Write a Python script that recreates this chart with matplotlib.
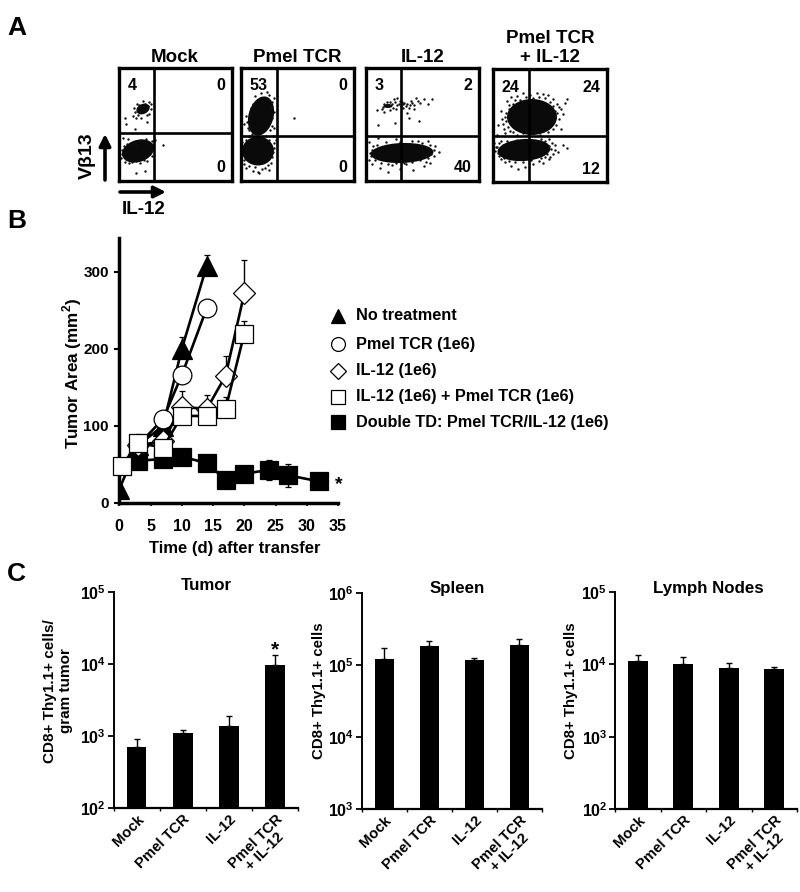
import matplotlib
matplotlib.use("Agg")
import matplotlib.pyplot as plt
from matplotlib.patches import Ellipse

plt.rcParams['font.family'] = ['Liberation Sans', 'DejaVu Sans']
plt.rcParams['font.weight'] = 'bold'
plt.rcParams['mathtext.fontset'] = 'custom'
plt.rcParams['mathtext.rm'] = 'Liberation Sans:bold'
plt.rcParams['mathtext.bf'] = 'Liberation Sans:bold'

W, H = 800, 892

# Panel A: quadrant percentages (top-left, top-right, bottom-right)
flow_titles = ["Mock", "Pmel TCR", "IL-12", "Pmel TCR\n+ IL-12"]
flow_boxes = [(119, 68, 232, 181), (241, 68, 354, 181), (366, 68, 479, 181), (493, 69, 607, 182)]
flow_splits = [(35, 65), (36, 68), (35, 68), (36, 67)]
flow_numbers = [("4", "0", "0"), ("53", "0", "0"), ("3", "2", "40"), ("24", "24", "12")]

# dense populations (centre x, centre y, width, height, angle), box units
mock_blobs = [(19, 83, 33, 22, -18), (24, 41, 14, 10, -25)]
pmel_blobs = [(20, 48, 25, 40, 15), (17, 83, 32, 29, 0)]
il12_blobs = [(36, 85, 63, 20, -2), (22, 38, 9, 4, 0)]
combo_blobs = [(39, 48, 50, 36, 0), (31, 81, 53, 22, -4)]

# scattered events, box units
mock_dots = [(6, 50), (7, 56), (16, 61), (14, 48), (28, 54), (44, 77), (17, 105), (26, 103), (6, 94), (4, 70),
             (9, 71), (18, 36), (24, 33), (30, 34), (29, 38), (32, 36), (16, 44), (19, 47), (30, 46), (22, 50),
             (3, 82), (2, 90), (10, 95), (17, 93), (28, 93), (33, 88), (36, 72), (34, 76), (8, 76), (22, 72),
             (5, 78), (3, 86), (7, 91), (13, 94), (21, 95), (25, 92), (31, 84), (34, 80), (33, 73), (27, 71),
             (17, 78), (12, 76), (28, 47), (15, 40), (32, 41), (17, 50), (26, 36), (20, 37)]
pmel_dots = [(53, 50), (5, 48), (3, 56), (7, 60), (5, 72), (1, 68), (33, 30), (31, 34), (28, 27), (10, 40),
             (9, 52), (8, 62), (33, 60), (32, 68), (3, 92), (5, 100), (17, 104), (18, 105), (12, 103), (24, 100),
             (30, 95), (33, 80), (35, 72), (2, 78), (8, 68), (28, 72), (14, 28), (20, 25), (26, 24), (29, 62),
             (31, 50), (33, 44), (12, 36), (9, 46), (30, 40), (2, 86), (3, 96), (8, 98), (27, 97), (31, 89),
             (33, 75), (1, 74), (11, 66), (25, 68), (31, 58), (6, 54), (21, 101), (14, 99), (32, 84), (28, 102)]
il12_dots = [(11, 42), (12, 57), (29, 55), (24, 42), (40, 38), (45, 33), (50, 30), (54, 35), (58, 31), (62, 36),
             (66, 31), (48, 37), (41, 45), (36, 34), (37, 40), (31, 30), (28, 31), (18, 44), (17, 39), (43, 50),
             (53, 53), (3, 74), (7, 78), (3, 92), (6, 96), (22, 104), (14, 100), (47, 102), (58, 98), (68, 88),
             (69, 78), (64, 95), (73, 84), (12, 70), (30, 71), (52, 73), (62, 73), (34, 101), (40, 96), (26, 97),
             (26, 36), (29, 34), (31, 37), (33, 36), (35, 38), (38, 35), (41, 36), (43, 40), (46, 35), (48, 41),
             (24, 34), (27, 40), (30, 41), (34, 33), (37, 36), (44, 37), (52, 33), (18, 36), (16, 41), (21, 34),
             (6, 82), (5, 88), (9, 92), (15, 95), (22, 96), (30, 95), (38, 95), (46, 94), (54, 92), (62, 90),
             (65, 86), (68, 82), (64, 77), (56, 75), (46, 73), (34, 74), (20, 74), (11, 77), (4, 85), (60, 94)]
combo_dots = [(5, 56), (9, 50), (11, 60), (8, 42), (14, 32), (18, 28), (24, 27), (30, 24), (37, 26), (44, 24),
              (50, 25), (55, 26), (60, 30), (64, 35), (68, 40), (70, 45), (66, 50), (63, 56), (68, 60), (60, 60),
              (72, 34), (74, 30), (50, 62), (42, 62), (30, 64), (20, 63), (12, 64), (4, 66), (1, 74), (3, 78),
              (5, 84), (8, 90), (12, 93), (18, 97), (25, 100), (32, 98), (40, 95), (46, 92), (50, 94), (56, 90),
              (58, 80), (62, 76), (70, 76), (74, 79), (56, 70), (48, 70), (36, 70), (24, 71), (14, 72), (8, 72),
              (60, 85), (57, 88), (52, 88), (16, 40), (58, 42), (62, 42), (66, 38), (20, 35), (12, 48), (60, 52),
              (10, 55), (13, 52), (15, 58), (17, 62), (24, 66), (35, 66), (47, 66), (55, 63), (62, 48), (64, 44),
              (60, 37), (57, 33), (52, 29), (46, 28), (40, 29), (33, 28), (27, 31), (22, 31), (16, 36), (13, 44),
              (4, 78), (6, 74), (10, 76), (2, 82), (6, 87), (11, 89), (16, 92), (22, 93), (30, 93), (38, 91),
              (48, 89), (54, 85), (56, 77), (52, 72), (43, 72), (30, 72), (19, 73), (62, 81), (65, 83), (59, 74)]
flow_dots = [mock_dots, pmel_dots, il12_dots, combo_dots]
flow_blobs = [mock_blobs, pmel_blobs, il12_blobs, combo_blobs]

# Panel B: tumor growth
black_days = [3, 7, 10, 14, 17, 20, 24, 27, 32]
black_area = [55, 57, 60, 52, 30, 38, 43, 36, 28]
black_err = [4, 5, 5, 5, 4, 5, 13, 15, 3]
tri_days = [0, 3, 7, 10, 14]
tri_area = [18, 75, 100, 200, 308]
tri_err = [1, 5, 6, 15, 14]
circ_days = [3, 7, 10, 14]
circ_area = [75, 109, 166, 253]
circ_err = [5, 6, 10, 8]
diam_days = [3, 7, 10, 14, 17, 20]
diam_area = [75, 80, 125, 122, 165, 272]
diam_err = [5, 7, 20, 18, 26, 43]
sq_days = [0.4, 3, 7, 10, 14, 17, 20]
sq_area = [48, 78, 72, 113, 113, 122, 220]
sq_err = [2, 12, 6, 10, 9, 16, 16]

# Panel C: cell counts
bar_labels = ["Mock", "Pmel TCR", "IL-12", "Pmel TCR\n+ IL-12"]
tumor_vals = [703, 1089, 1361, 9680]
tumor_tops = [908, 1199, 1915, 13200]
spleen_vals = [121000, 186000, 118000, 192000]
spleen_tops = [172000, 213000, 126000, 227000]
node_vals = [11100, 10000, 8900, 8500]
node_tops = [13500, 12600, 10500, 9300]


def px_axes(fig, left, top, right, bottom):
    return fig.add_axes([left / W, 1 - bottom / H, (right - left) / W, (bottom - top) / H])


fig = plt.figure(figsize=(W / 100, H / 100), dpi=100)

# overlay in pixel coordinates for panel letters, legend and loose labels
over = fig.add_axes([0, 0, 1, 1], zorder=10)
over.set_xlim(0, W)
over.set_ylim(H, 0)
over.axis('off')

for letter, y in zip("ABC", [28, 221, 574]):
    over.text(7, y, letter, fontsize=19, va='center', ha='left')

# Panel A
for i, box in enumerate(flow_boxes):
    left, top, right, bottom = box
    ax = px_axes(fig, left, top, right, bottom)
    ax.set_xlim(0, right - left)
    ax.set_ylim(bottom - top, 0)
    ax.set_xticks([])
    ax.set_yticks([])
    for s in ax.spines.values():
        s.set_linewidth(2.4)
    for cx, cy, w, h, ang in flow_blobs[i]:
        ax.add_patch(Ellipse((cx, cy), w, h, angle=ang, color='#0a0a0a', lw=0))
    xs = [d[0] for d in flow_dots[i]]
    ys = [d[1] for d in flow_dots[i]]
    ax.scatter(xs, ys, s=3, color='#111111', lw=0)
    vx, hy = flow_splits[i]
    ax.axvline(vx, color='k', lw=1.9)
    ax.axhline(hy, color='k', lw=1.9)
    tl, tr, br = flow_numbers[i]
    ax.text(8.5, 18, tl, fontsize=11.5, va='center', ha='left')
    ax.text(right - left - 7, 18, tr, fontsize=11.5, va='center', ha='right')
    ax.text(right - left - 7, 100, br, fontsize=11.5, va='center', ha='right')
    title_y = 58 if i < 3 else 48
    over.text((left + right) / 2 - (1 if i == 0 else 0), title_y, flow_titles[i], fontsize=13.5, ha='center',
              va='center', linespacing=1.1)

over.text(87, 156, "V\u03b213", fontsize=14, rotation=90, ha='center', va='center')
over.text(144, 209, "IL-12", fontsize=13.5, ha='center', va='center')
arrow = dict(arrowstyle='-|>', lw=2.6, color='k', mutation_scale=17, shrinkA=0, shrinkB=0)
over.annotate('', xy=(105, 134), xytext=(105, 180), arrowprops=arrow)
over.annotate('', xy=(166, 192), xytext=(120, 192), arrowprops=arrow)

# Panel B
ax = px_axes(fig, 119.3, 238, 338, 503)
ax.set_xlim(0, 35)
ax.set_ylim(0, 344)
ax.patch.set_alpha(0)
ax.spines['top'].set_visible(False)
ax.spines['right'].set_visible(False)
ax.spines['left'].set_linewidth(2.5)
ax.spines['bottom'].set_linewidth(2.5)
ax.set_xticks(range(0, 36, 5))
ax.set_yticks([0, 100, 200, 300])
ax.tick_params(axis='x', length=2.5, width=1.2, pad=9, labelsize=11.5)
ax.tick_params(axis='y', length=3.5, width=1.5, pad=4, labelsize=11)

# the no-treatment triangle at day 0 is cut off by the y axis in the reference, so that series stays clipped
series = [
    (black_days, black_area, black_err, 's', 'k', 13, (True, True), False),
    (tri_days, tri_area, tri_err, '^', 'k', 15, (False, True), True),
    (circ_days, circ_area, circ_err, 'o', 'w', 13.5, (False, True), False),
    (diam_days, diam_area, diam_err, 'D', 'w', 11.5, (False, True), False),
    (sq_days, sq_area, sq_err, 's', 'w', 13, (False, True), False),
]
for k, (days, area, err, mk, fc, ms, sides, clip) in enumerate(series):
    lower = err if sides[0] else [0] * len(err)
    upper = err if sides[1] else [0] * len(err)
    ax.errorbar(days, area, yerr=[lower, upper], color='k', lw=1.9, elinewidth=1, capsize=2.5, capthick=1,
                marker=mk, mfc=fc, mec='k', mew=0.9, ms=ms, clip_on=clip, zorder=3 + k)

over.text(339, 485, "*", fontsize=14, ha='center', va='center')
over.text(235, 548, "Time (d) after transfer", fontsize=12, ha='center', va='center')
over.text(72, 373, r"Tumor Area (mm$^{2}$)", fontsize=12.3, rotation=90, ha='center', va='center')

# legend, same order as the reference
legend_labels = ["No treatment", "Pmel TCR (1e6)", "IL-12 (1e6)", "IL-12 (1e6) + Pmel TCR (1e6)",
                 "Double TD: Pmel TCR/IL-12 (1e6)"]
legend_marks = [('^', 'k', 10.5), ('o', 'w', 10), ('D', 'w', 8), ('s', 'w', 9.5), ('s', 'k', 9.5)]
legend_y = [316, 344, 371, 397, 422]
for label, (mk, fc, ms), y in zip(legend_labels, legend_marks, legend_y):
    over.plot([337.5], [y], marker=mk, mfc=fc, mec='k', mew=0.9, ms=ms, ls='none')
    over.text(356, y, label, fontsize=11.7, ha='left', va='center')

# Panel C
bar_panels = [
    ("Tumor", (113.5, 592, 298, 808), (2, 5), tumor_vals, tumor_tops, 206, 585),
    ("Spleen", (361.7, 593, 542, 809), (3, 6), spleen_vals, spleen_tops, 457, 588),
    ("Lymph Nodes", (615, 592, 797, 809), (2, 5), node_vals, node_tops, 708, 588),
]
for title, rect, (lo, hi), vals, tops, tx, ty in bar_panels:
    ax = px_axes(fig, *rect)
    ax.set_yscale('log')
    ax.set_ylim(10 ** lo, 10 ** hi)
    ax.set_xlim(0, 4)
    centers = [0.5, 1.5, 2.5, 3.5]
    ax.bar(centers, vals, width=0.43, color='k')
    upper = [t - v for t, v in zip(tops, vals)]
    ax.errorbar(centers, vals, yerr=[[0] * 4, upper], fmt='none', ecolor='k', elinewidth=1, capsize=2.5, capthick=1)
    ax.spines['top'].set_visible(False)
    ax.spines['right'].set_visible(False)
    ax.spines['left'].set_linewidth(1.4)
    ax.spines['bottom'].set_linewidth(1.6)
    ax.set_yticks([10 ** e for e in range(lo, hi + 1)])
    ax.set_yticklabels([r"$\mathregular{10^{%d}}$" % e for e in range(lo, hi + 1)])
    ax.tick_params(axis='y', which='major', length=4.5, width=1.3, pad=1, labelsize=11.5)
    ax.tick_params(axis='y', which='minor', length=0)
    ax.set_xticks([0, 1, 2, 3, 4])
    ax.set_xticklabels([])
    ax.set_xticks(centers, minor=True)
    ax.set_xticklabels(bar_labels, minor=True)
    ax.tick_params(axis='x', which='major', length=2, width=1)
    ax.tick_params(axis='x', which='minor', length=0, pad=3, labelsize=10.6)
    for lbl in ax.get_xticklabels(minor=True):
        lbl.set(rotation=45, ha='right', va='top', rotation_mode='anchor', multialignment='center', linespacing=1.0)
    over.text(tx, ty, title, fontsize=12.2, ha='center', va='center')

over.text(275, 650, "*", fontsize=15, ha='center', va='center')
over.text(58, 691, "CD8+ Thy1.1+ cells/\ngram tumor", fontsize=11, rotation=90, ha='center', va='center',
          multialignment='center', linespacing=1.15)
over.text(319, 691, "CD8+ Thy1.1+ cells", fontsize=10.8, rotation=90, ha='center', va='center')
over.text(571, 691, "CD8+ Thy1.1+ cells", fontsize=10.8, rotation=90, ha='center', va='center')

fig.savefig("out.png", dpi=100)
